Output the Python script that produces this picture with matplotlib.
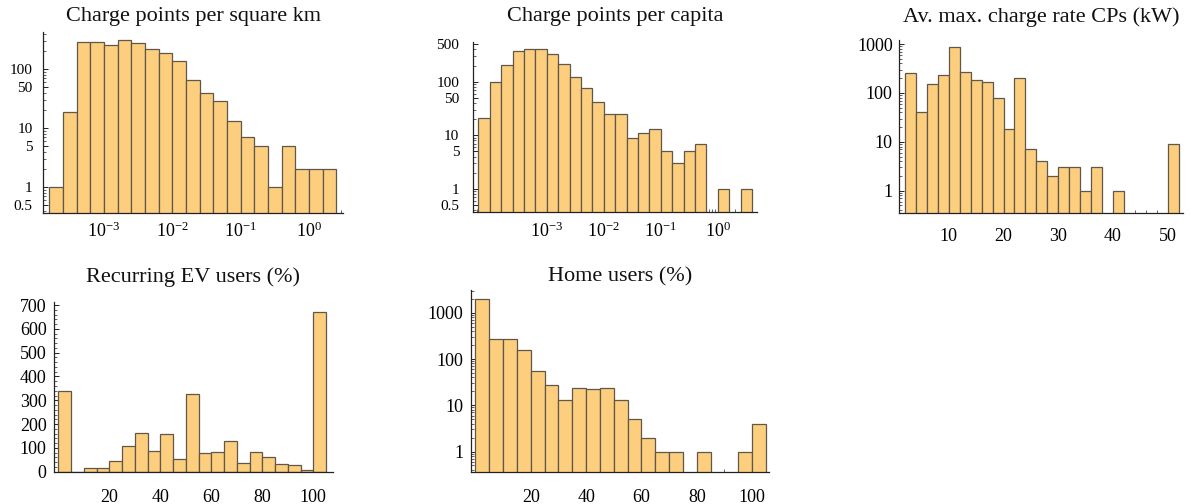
import matplotlib
matplotlib.use("Agg")
import matplotlib.pyplot as plt
import numpy as np
from matplotlib.ticker import (FixedLocator, FixedFormatter, LogLocator,
                               MultipleLocator, NullFormatter)

plt.rcParams["font.family"] = ["Liberation Serif", "DejaVu Serif"]
plt.rcParams["mathtext.fontset"] = "custom"
plt.rcParams["mathtext.rm"] = "Liberation Serif"
plt.rcParams["mathtext.it"] = "Liberation Serif:italic"

BAR = "#fcce7e"
EDGE = "#5e574a"
AXIS = "#222222"

# charge points per square km: 0.2-decade bins from 10^-3.8
cp_area_log_edges = np.round(np.arange(-3.8, 0.41, 0.2), 2)
cp_area_counts = [1, 19, 293, 293, 257, 312, 281, 217, 185, 137, 66,
                  40, 29, 13, 7, 5, 1, 5, 2, 2, 2]
cp_area_yticks = [0.5, 1, 5, 10, 50, 100]

# charge points per capita: 0.2-decade bins from 10^-4.2
cp_capita_log_edges = np.round(np.arange(-4.2, 0.61, 0.2), 2)
cp_capita_counts = [21, 100, 204, 373, 400, 412, 328, 210, 120, 75, 41,
                    25, 25, 9, 11, 13, 5, 3, 5, 7, 0, 1, 0, 1]
cp_capita_yticks = [0.5, 1, 5, 10, 50, 100, 500]

# labelled decades on the two density panels
density_xticks = [1e-3, 1e-2, 1e-1, 1e0]

# average max charge rate (kW), 2 kW bins
rate_edges = np.arange(2, 53, 2)
rate_counts = [259, 41, 153, 236, 880, 264, 180, 166, 80, 18, 201, 7, 4,
               2, 3, 3, 1, 3, 0, 1, 0, 0, 0, 0, 9]
rate_yticks = [1, 10, 100, 1000]

# recurring EV users (%), 5 % bins
recurring_edges = np.arange(0, 106, 5)
recurring_counts = [341, 0, 15, 15, 45, 106, 164, 86, 157, 54, 325, 78,
                    84, 130, 36, 81, 61, 32, 28, 8, 671]

# home users (%), 5 % bins
home_edges = np.arange(0, 106, 5)
home_counts = [1980, 268, 268, 154, 55, 28, 13, 24, 22, 24, 13, 5, 2,
               1, 1, 0, 1, 0, 0, 1, 4]
home_yticks = [1, 10, 100, 1000]

percent_xticks = [20, 40, 60, 80, 100]


def draw_hist(ax, edges, counts, logy):
    edges = np.asarray(edges, dtype=float)
    counts = np.asarray(counts, dtype=float)
    widths = np.diff(edges)
    keep = counts > 0 if logy else np.ones(len(counts), dtype=bool)
    if logy:
        ax.set_yscale("log")
    ax.bar(edges[:-1][keep], counts[keep], width=widths[keep], align="edge",
           color=BAR, edgecolor=EDGE, linewidth=0.9, zorder=2)


def style_axes(ax, xpad, ypad, xsize=13, ysize=13):
    for side in ("top", "right"):
        ax.spines[side].set_visible(False)
    for side in ("left", "bottom"):
        ax.spines[side].set_color(AXIS)
        ax.spines[side].set_linewidth(0.9)
        ax.spines[side].set_zorder(3)
    ax.tick_params(which="major", direction="in", length=3.5, width=0.7,
                   color=AXIS)
    ax.tick_params(which="minor", direction="in", length=2, width=0.5,
                   color=AXIS)
    ax.tick_params(axis="x", which="major", pad=xpad, labelsize=xsize)
    ax.tick_params(axis="y", which="major", pad=ypad, labelsize=ysize)
    ax.patch.set_alpha(0)


def log_yticks(ax, values):
    ax.yaxis.set_major_locator(FixedLocator(values))
    ax.yaxis.set_major_formatter(FixedFormatter(["%g" % v for v in values]))
    ax.yaxis.set_minor_locator(LogLocator(base=10, subs=np.arange(2, 10),
                                          numticks=20))
    ax.yaxis.set_minor_formatter(NullFormatter())


def log_xticks(ax):
    ax.set_xscale("log")
    ax.xaxis.set_major_locator(FixedLocator(density_xticks))
    ax.xaxis.set_minor_locator(LogLocator(base=10, subs=np.arange(2, 10),
                                          numticks=20))
    ax.xaxis.set_minor_formatter(NullFormatter())


fig = plt.figure(figsize=(11.98, 5.04), dpi=100)

# top left
ax1 = fig.add_axes([0.0361, 0.578, 0.2502, 0.3591])
log_xticks(ax1)
draw_hist(ax1, 10.0 ** cp_area_log_edges, cp_area_counts, True)
ax1.set_xlim(10 ** -3.89, 10 ** 0.50)
ax1.set_ylim(0.37, 432)
log_yticks(ax1, cp_area_yticks)
style_axes(ax1, xpad=6.5, ypad=7.7, ysize=11)

# top middle
ax2 = fig.add_axes([0.3946, 0.5788, 0.2376, 0.3385])
log_xticks(ax2)
draw_hist(ax2, 10.0 ** cp_capita_log_edges, cp_capita_counts, True)
ax2.set_xlim(10 ** -4.30, 10 ** 0.695)
ax2.set_ylim(0.367, 556)
log_yticks(ax2, cp_capita_yticks)
style_axes(ax2, xpad=6.8, ypad=9.6, ysize=11)

# top right
ax3 = fig.add_axes([0.7504, 0.578, 0.2371, 0.3427])
draw_hist(ax3, rate_edges, rate_counts, True)
ax3.set_xlim(0.9, 52.8)
ax3.set_ylim(0.356, 1210)
log_yticks(ax3, rate_yticks)
ax3.xaxis.set_major_locator(MultipleLocator(10))
ax3.xaxis.set_minor_locator(MultipleLocator(2))
style_axes(ax3, xpad=11, ypad=4.5)

# bottom left
ax4 = fig.add_axes([0.0451, 0.0641, 0.2326, 0.3373])
draw_hist(ax4, recurring_edges, recurring_counts, False)
ax4.set_xlim(-1.7, 107.6)
ax4.set_ylim(0, 714)
ax4.xaxis.set_major_locator(FixedLocator(percent_xticks))
ax4.xaxis.set_minor_locator(MultipleLocator(5))
ax4.yaxis.set_major_locator(MultipleLocator(100))
ax4.yaxis.set_minor_locator(MultipleLocator(20))
style_axes(ax4, xpad=12.7, ypad=5.3)

# bottom middle
ax5 = fig.add_axes([0.3929, 0.0641, 0.2490, 0.3605])
draw_hist(ax5, home_edges, home_counts, True)
ax5.set_xlim(-1.7, 106.1)
ax5.set_ylim(0.367, 3100)
log_yticks(ax5, home_yticks)
ax5.xaxis.set_major_locator(FixedLocator(percent_xticks))
ax5.xaxis.set_minor_locator(MultipleLocator(5))
style_axes(ax5, xpad=12.5, ypad=5.3)

titles = [
    (ax1, "Charge points per square km", 0.9663),
    (ax2, "Charge points per capita", 0.9663),
    (ax3, "Av. max. charge rate CPs (kW)", 0.9663),
    (ax4, "Recurring EV users (%)", 0.4510),
    (ax5, "Home users (%)", 0.4510),
]
for ax, label, ty in titles:
    pos = ax.get_position()
    fig.text(pos.x0 + pos.width / 2, ty, label, ha="center", va="center",
             fontsize=16, color="#111111")

fig.savefig("out.png", dpi=100, facecolor="white")
